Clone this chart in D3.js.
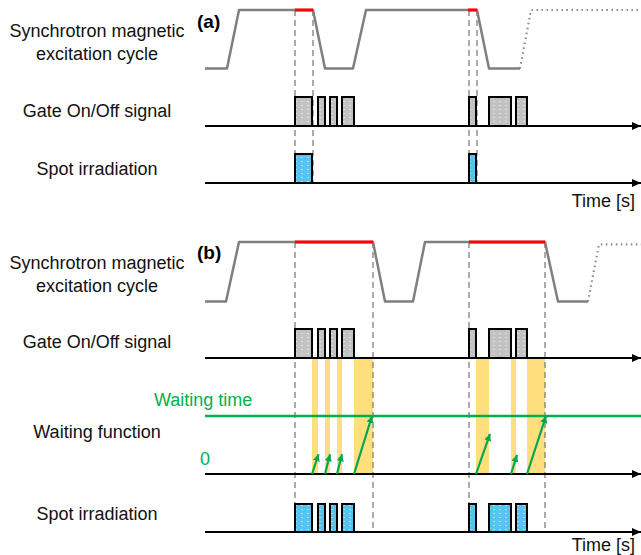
<!DOCTYPE html>
<html>
<head>
<meta charset="utf-8">
<script src="https://cdn.jsdelivr.net/npm/d3@7"></script>
<style>
  html, body { margin: 0; padding: 0; background: #fff; }
  svg { display: block; font-family: Arial, "Liberation Sans", sans-serif; }
</style>
</head>
<body>
<svg id="chart" width="641" height="555"></svg>
<script>
// ---- Timing data (time in arbitrary units along the horizontal axis) ----
// Synchrotron magnetic excitation cycle: [time, level] (0 = flat bottom, 1 = flat top)
const cycleA = [[0,0],[2.2,0],[3.4,1],[10.8,1],[12.0,0],[14.8,0],[16.1,1],[27.2,1],[28.4,0],[31.5,0]];
const cycleADotted = [[31.5,0],[32.6,1],[43.6,1]];
const extractionA = [[9.0,10.8],[26.3,27.2]];          // red flat-top beam extraction spans

const cycleB = [[0,0],[2.1,0],[3.4,1],[16.8,1],[18.0,0],[20.8,0],[22.0,1],[34.0,1],[35.3,0],[38.3,0]];
const cycleBDotted = [[38.3,0],[39.4,0.96],[43.6,0.96]];
const extractionB = [[9.0,16.8],[26.4,34.0]];

// Gate On/Off pulses: [start, end]
const gatePulses = [[9.0,10.7],[11.3,12.0],[12.5,13.2],[13.7,14.9],[26.4,27.1],[28.4,30.6],[31.1,32.2]];
// Spot irradiation pulses
const spotA = [[9.0,10.7],[26.4,27.1]];
const spotB = [[9.0,10.7],[11.3,12.0],[12.5,13.2],[13.7,14.9],[26.4,27.1],[28.4,30.6],[31.1,32.2]];

// Gate-off intervals during extraction (waiting function active)
const waitBands = [[10.7,11.3],[12.0,12.5],[13.2,13.7],[14.9,16.8],[27.1,28.4],[30.6,31.1],[32.2,34.0]];
// Waiting-function ramps: [start time, end time, end value] (1 = waiting time)
const waitRamps = [[10.7,11.35,0.34],[12.0,12.5,0.34],[13.2,13.7,0.34],[14.9,16.7,1.0],
                   [27.1,28.5,0.69],[30.6,31.2,0.33],[32.2,34.1,1.0]];

// Marker times for dashed guide lines
const guidesA = [9.0,10.8,26.4,27.2];
const guidesB = [9.0,16.8,26.4,34.0];

// Row labels
const rowLabelsA = [["Synchrotron magnetic","excitation cycle"],["Gate On/Off signal"],["Spot irradiation"]];
const rowLabelsB = [["Synchrotron magnetic","excitation cycle"],["Gate On/Off signal"],["Waiting function"],["Spot irradiation"]];

// ---- Drawing ----
const svg = d3.select("#chart");
const x = d3.scaleLinear().domain([0, 43.6]).range([205, 641]);

const defs = svg.append("defs");
function texture(id, base, dot) {
  const p = defs.append("pattern").attr("id", id).attr("patternUnits", "userSpaceOnUse")
    .attr("width", 6).attr("height", 4);
  p.append("rect").attr("width", 6).attr("height", 4).attr("fill", base);
  p.append("rect").attr("x", 1).attr("y", 1).attr("width", 2).attr("height", 1).attr("fill", dot);
}
texture("grayTex", "#c2c2c2", "#e0e0e0");
texture("blueTex", "#57c4ef", "#a6def5");

function arrowMarker(id, color, w, h) {
  defs.append("marker").attr("id", id).attr("viewBox", `0 0 ${w} ${h}`)
    .attr("refX", w).attr("refY", h / 2).attr("markerWidth", w).attr("markerHeight", h)
    .attr("markerUnits", "userSpaceOnUse").attr("orient", "auto")
    .append("path").attr("d", `M0,0L${w},${h/2}L0,${h}Z`).attr("fill", color);
}
arrowMarker("axisArrow", "#000", 9, 8);
arrowMarker("greenArrow", "#00a651", 7, 7);

const labelFont = 18;

function labels(rows, ys) {
  rows.forEach((lines, i) => {
    lines.forEach((t, j) => {
      svg.append("text").attr("x", 97).attr("y", ys[i] + j * 23)
        .attr("text-anchor", "middle").attr("font-size", labelFont).attr("fill", "#111").text(t);
    });
  });
}

function cycle(data, dotted, extraction, yTop, yBot) {
  const y = d3.scaleLinear().domain([0, 1]).range([yBot, yTop]);
  const line = d3.line().x(d => x(d[0])).y(d => y(d[1]));
  svg.append("path").attr("d", line(data)).attr("fill", "none")
    .attr("stroke", "#7f7f7f").attr("stroke-width", 2.5).attr("stroke-linejoin", "round");
  svg.append("path").attr("d", line(dotted)).attr("fill", "none")
    .attr("stroke", "#8a8a8a").attr("stroke-width", 2.2).attr("stroke-dasharray", "1.5,3.5");
  svg.selectAll(null).data(extraction).enter().append("line")
    .attr("x1", d => x(d[0])).attr("x2", d => x(d[1]))
    .attr("y1", y(1)).attr("y2", y(1))
    .attr("stroke", "#ff0000").attr("stroke-width", 3);
}

function baseline(y) {
  svg.append("line").attr("x1", x(0)).attr("x2", x.range()[1]).attr("y1", y).attr("y2", y)
    .attr("stroke", "#000").attr("stroke-width", 2.2).attr("marker-end", "url(#axisArrow)");
}

function pulses(data, base, height, fill) {
  const y = d3.scaleLinear().domain([0, 1]).range([base, base - height]);
  svg.selectAll(null).data(data).enter().append("rect")
    .attr("x", d => x(d[0])).attr("width", d => x(d[1]) - x(d[0]))
    .attr("y", y(1)).attr("height", y(0) - y(1))
    .attr("fill", fill).attr("stroke", "#000").attr("stroke-width", 2);
}

function guides(times, y1, y2) {
  svg.selectAll(null).data(times).enter().append("line")
    .attr("x1", d => x(d)).attr("x2", d => x(d)).attr("y1", y1).attr("y2", y2)
    .attr("stroke", "#7f7f7f").attr("stroke-width", 1.3).attr("stroke-dasharray", "6,4");
}

// ===== Panel (a) =====
guides(guidesA, 10, 183);
cycle(cycleA, cycleADotted, extractionA, 10, 68.5);
baseline(126);
pulses(gatePulses, 126, 29, "url(#grayTex)");
baseline(183);
pulses(spotA, 183, 29, "url(#blueTex)");
labels(rowLabelsA, [37, 117, 175]);
svg.append("text").attr("x", 197).attr("y", 28).attr("font-size", 19).attr("font-weight", "bold").text("(a)");
svg.append("text").attr("x", 635).attr("y", 207).attr("text-anchor", "end").attr("font-size", 18).attr("fill", "#111").text("Time [s]");

// ===== Panel (b) =====
const wy = d3.scaleLinear().domain([0, 1]).range([474, 416]);
svg.selectAll(null).data(waitBands).enter().append("rect")
  .attr("x", d => x(d[0])).attr("width", d => x(d[1]) - x(d[0]))
  .attr("y", 359).attr("height", wy(0) - 359)
  .attr("fill", "#ffd966").attr("opacity", 0.85);
guides(guidesB, 242, 532);
cycle(cycleB, cycleBDotted, extractionB, 242, 301.5);
baseline(358);
pulses(gatePulses, 358, 29, "url(#grayTex)");

// waiting time threshold
svg.append("line").attr("x1", x(0)).attr("x2", x.range()[1]).attr("y1", wy(1)).attr("y2", wy(1))
  .attr("stroke", "#00b050").attr("stroke-width", 2.5);
baseline(wy(0));
svg.selectAll(null).data(waitRamps).enter().append("line")
  .attr("x1", d => x(d[0])).attr("y1", wy(0))
  .attr("x2", d => x(d[1])).attr("y2", d => wy(d[2]))
  .attr("stroke", "#00a651").attr("stroke-width", 2.2).attr("marker-end", "url(#greenArrow)");
svg.append("text").attr("x", 154).attr("y", 406).attr("font-size", 18).attr("fill", "#00b050").text("Waiting time");
svg.append("text").attr("x", 200).attr("y", 465).attr("font-size", 18).attr("fill", "#00b050").text("0");

baseline(532);
pulses(spotB, 532, 28, "url(#blueTex)");
labels(rowLabelsB, [269, 348, 438, 520]);
svg.append("text").attr("x", 197).attr("y", 259).attr("font-size", 19).attr("font-weight", "bold").text("(b)");
svg.append("text").attr("x", 635).attr("y", 551).attr("text-anchor", "end").attr("font-size", 18).attr("fill", "#111").text("Time [s]");
</script>
</body>
</html>
